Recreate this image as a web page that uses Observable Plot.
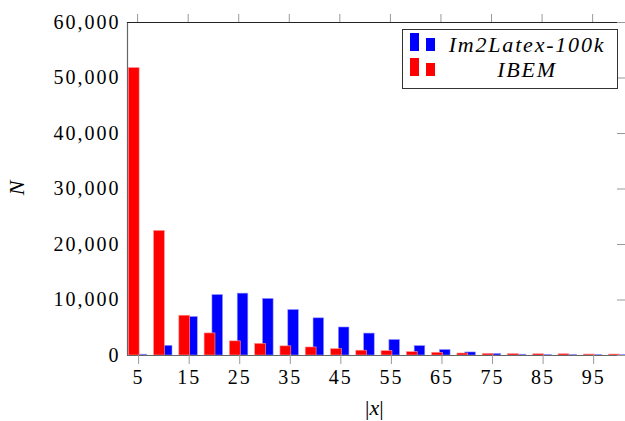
<!DOCTYPE html>
<html>
<head>
<meta charset="utf-8">
<script src="https://cdn.jsdelivr.net/npm/d3@7"></script>
<script src="https://cdn.jsdelivr.net/npm/@observablehq/plot@0.6"></script>
<style>
  html, body { margin: 0; padding: 0; background: #fff; overflow: hidden; }
  #wrap { position: relative; width: 625px; height: 421px; }
  #wrap svg { position: absolute; left: 0; top: 0; }
  #wrap svg text { letter-spacing: 2px; }
  .lab { position: absolute; font-family: "Liberation Serif", serif; font-style: italic; font-size: 22px; color: #000; white-space: nowrap; line-height: 1; }
  #legend { position: absolute; left: 402px; top: 29px; width: 214px; height: 58px; border: 1px solid #333; background: #fff; }
  .sw { position: absolute; width: 9px; }
  .ltxt { position: absolute; left: 40px; width: 168px; text-align: center; font-family: "Liberation Serif", serif; font-style: italic; font-size: 22px; letter-spacing: 1.8px; line-height: 1; white-space: nowrap; }
</style>
</head>
<body>
<div id="wrap"></div>
<script>
// Data
const xValues = [5, 10, 15, 20, 25, 30, 35, 40, 45, 50, 55, 60, 65, 70, 75, 80, 85, 90, 95, 100];
const im2latex = [150, 1750, 6950, 10900, 11150, 10200, 8200, 6700, 5050, 3950, 2800, 1700, 1000, 550, 280, 150, 120, 100, 90, 80];
const ibem = [51800, 22450, 7170, 3980, 2550, 2100, 1650, 1450, 1150, 870, 800, 610, 490, 360, 300, 250, 230, 230, 180, 180];
const xTicks = [5, 15, 25, 35, 45, 55, 65, 75, 85, 95];
const yTicks = [0, 10000, 20000, 30000, 40000, 50000, 60000];
const seriesNames = ["Im2Latex-100k", "IBEM"];

const blueRows = xValues.map((x, i) => ({x, v: im2latex[i]}));
const redRows = xValues.map((x, i) => ({x, v: ibem[i]}));

const xMin = 3, xMax = 101.5;

const chart = Plot.plot({
  width: 625,
  height: 421,
  marginLeft: 127,
  marginRight: 0,
  marginTop: 22,
  marginBottom: 66,
  x: {domain: [xMin, xMax]},
  y: {domain: [0, 60000]},
  style: {fontFamily: "'Liberation Serif', serif", fontSize: "20px", color: "#000", background: "#fff"},
  marks: [
    Plot.rect(blueRows, {x1: d => d.x - 0.2, x2: d => d.x + 1.9, y1: 0, y2: "v", fill: "#0000ff", stroke: "#9a9aff", strokeWidth: 0.6}),
    Plot.rect(redRows, {x1: d => d.x - 1.75, x2: d => d.x + 0.4, y1: 0, y2: "v", fill: "#ff0000", stroke: "#ff9a9a", strokeWidth: 0.6}),
    Plot.ruleX([xMin], {stroke: "#666", strokeWidth: 1.2}),
    Plot.ruleY([0], {stroke: "#666", strokeWidth: 1.2}),
    Plot.ruleY([60000], {stroke: "#222", strokeWidth: 1.2}),
    Plot.ruleY(yTicks, {y: d => d, x1: xMax, x2: xMax, insetLeft: -8, stroke: "#999"}),
    Plot.ruleX(xTicks, {x: d => d, y1: 60000, y2: 60000, insetTop: -8, stroke: "#999"}),
    Plot.axisX({ticks: xTicks, tickSize: 9, tickPadding: 5, label: null, stroke: "#999", fill: "#000", fontSize: 20, dx: 1}),
    Plot.axisY({ticks: yTicks, tickSize: 0, tickPadding: 7, tickFormat: d3.format(","), label: null, fill: "#000", fontSize: 20})
  ]
});

const wrap = document.getElementById("wrap");
wrap.appendChild(chart);

// Axis labels
const yl = document.createElement("div");
yl.className = "lab";
yl.textContent = "N";
yl.style.left = "10px";
yl.style.top = "177px";
yl.style.transform = "rotate(-90deg)";
wrap.appendChild(yl);

const xl = document.createElement("div");
xl.className = "lab";
xl.style.left = "365px";
xl.style.top = "397px";
xl.style.fontSize = "22px";
xl.innerHTML = '<span style="font-style:normal">|</span>x<span style="font-style:normal">|</span>';
wrap.appendChild(xl);

// Legend
const lg = document.createElement("div");
lg.id = "legend";
const entries = [
  {name: seriesNames[0], color: "#0000ff"},
  {name: seriesNames[1], color: "#ff0000"}
];
entries.forEach((e, k) => {
  const base = k === 0 ? 21 : 46;
  const s1 = document.createElement("div");
  s1.className = "sw";
  s1.style.background = e.color;
  s1.style.left = "7px";
  s1.style.top = (base - 18) + "px";
  s1.style.height = "18px";
  const s2 = document.createElement("div");
  s2.className = "sw";
  s2.style.background = e.color;
  s2.style.left = "23px";
  s2.style.top = (base - 13) + "px";
  s2.style.height = "13px";
  const t = document.createElement("div");
  t.className = "ltxt";
  t.textContent = e.name;
  t.style.top = (base - 17) + "px";
  lg.appendChild(s1); lg.appendChild(s2); lg.appendChild(t);
});
wrap.appendChild(lg);
</script>
</body>
</html>
